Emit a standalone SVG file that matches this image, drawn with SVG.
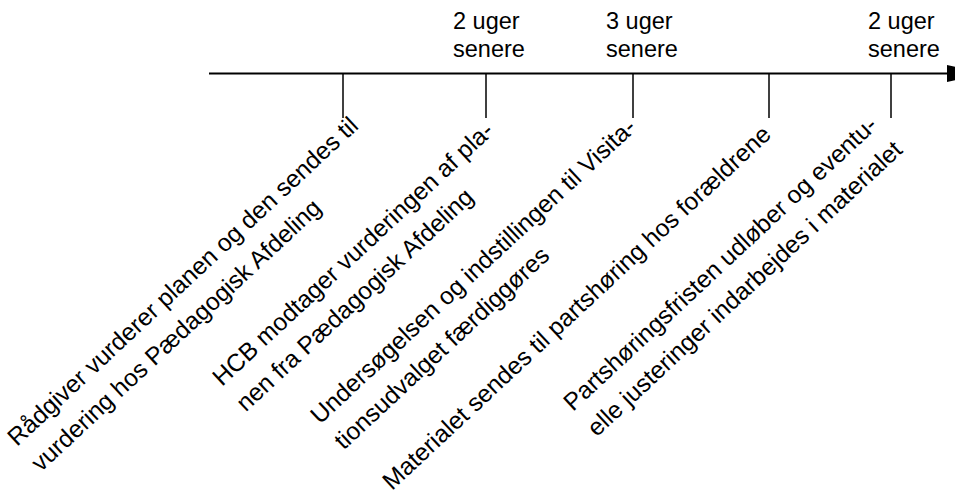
<svg xmlns="http://www.w3.org/2000/svg" width="955" height="497" viewBox="0 0 955 497">
<style>
text{font-family:"Liberation Sans",Arial,sans-serif;fill:#000}
.top{font-size:23.5px}
.lab{font-size:24.5px}
.tick{stroke:#000;stroke-width:1.5;fill:none}
.axis{stroke:#000;stroke-width:2;fill:none}
</style>
<rect width="955" height="497" fill="#fff"/>
<g id="connectors">
<line class="axis" x1="209" y1="73.5" x2="950" y2="73.5"/>
<polygon points="947,65 985,73.5 947,82" fill="#000"/>
<line class="tick" x1="343" y1="73.5" x2="343" y2="118"/>
<line class="tick" x1="486" y1="73.5" x2="486" y2="118"/>
<line class="tick" x1="633" y1="73.5" x2="633" y2="118"/>
<line class="tick" x1="769" y1="73.5" x2="769" y2="118"/>
<line class="tick" x1="891" y1="73.5" x2="891" y2="118"/>
</g>
<g id="time1"><text class="top" x="453" y="29">2 uger</text><text class="top" x="453" y="57">senere</text></g>
<g id="time2"><text class="top" x="606" y="29">3 uger</text><text class="top" x="606" y="57">senere</text></g>
<g id="time3"><text class="top" x="868" y="29">2 uger</text><text class="top" x="868" y="57">senere</text></g>
<g id="step1" transform="translate(17,447) rotate(-43)"><text class="lab" x="0" y="0">Rådgiver vurderer planen og den sendes til</text><text class="lab" x="0" y="35">vurdering hos Pædagogisk Afdeling</text></g>
<g id="step2" transform="translate(222,387) rotate(-43)"><text class="lab" x="0" y="0">HCB modtager vurderingen af pla-</text><text class="lab" x="0" y="35">nen fra Pædagogisk Afdeling</text></g>
<g id="step3" transform="translate(320,425) rotate(-43)"><text class="lab" x="0" y="0">Undersøgelsen og indstillingen til Visita-</text><text class="lab" x="0" y="35">tionsudvalget færdiggøres</text></g>
<g id="step4" transform="translate(392,491) rotate(-43)"><text class="lab" x="0" y="0">Materialet sendes til partshøring hos forældrene</text></g>
<g id="step5" transform="translate(573,412) rotate(-43)"><text class="lab" x="0" y="0">Partshøringsfristen udløber og eventu-</text><text class="lab" x="0" y="35">elle justeringer indarbejdes i materialet</text></g>
</svg>
